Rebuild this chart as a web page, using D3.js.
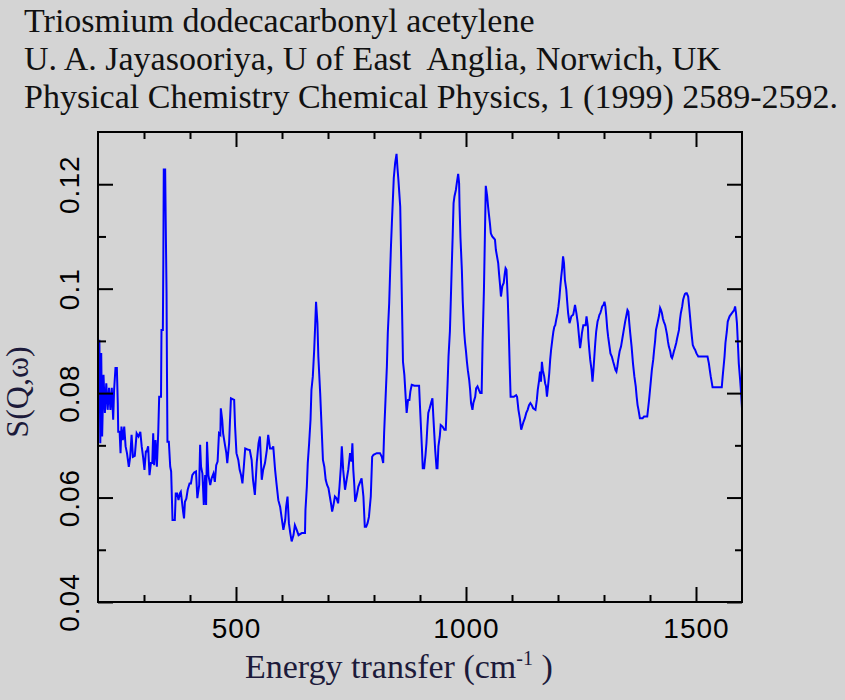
<!DOCTYPE html>
<html>
<head>
<meta charset="utf-8">
<script src="https://cdn.jsdelivr.net/npm/d3@7"></script>
<style>
  html, body { margin: 0; padding: 0; background: #d4d4d4; }
  svg { display: block; }
  text { white-space: pre; }
</style>
</head>
<body>
<svg id="chart" width="845" height="700"></svg>
<script>
// ---------- data ----------
const titleLines = [
  "Triosmium dodecacarbonyl acetylene",
  "U. A. Jayasooriya, U of East  Anglia, Norwich, UK",
  "Physical Chemistry Chemical Physics, 1 (1999) 2589-2592."
];
const xLabel = "Energy transfer (cm";
const xLabelSup = "-1";
const xLabelEnd = " )";
const yLabel = "S(Q,\u03c9)";

const xDomain = [200, 1600];
const yDomain = [0.04, 0.13];
const xMajorTicks = [500, 1000, 1500];
const xMinorTicks = [300, 400, 600, 700, 800, 900, 1100, 1200, 1300, 1400];
const yMajorTicks = [0.04, 0.06, 0.08, 0.1, 0.12];
const yMinorTicks = [0.05, 0.07, 0.09, 0.11];

const energy = [
200,203,205,207,209,212,215,218,221,224,227,230,233,235,238,241,243,244,247,249,
251,254,257,260,263,267,270,273,276,280,284,288,292,295,298,301,304,306,309,312,
315,318,320,322,325,328,331,333,337,338,341,342,343,346,347,349,350,351,354,357,
359,362,367,369,372,375,378,380,383,385,387,389,392,395,399,402,405,409,413,416,
420,422,424,427,430,433,435,437,440,444,447,451,454,457,460,463,466,467,470,472,
476,479,481,485,487,489,496,498,501,505,508,511,514,517,520,525,530,534,537,541,
545,549,552,556,559,563,567,570,574,579,581,585,588,592,596,599,603,607,609,612,
615,618,621,625,628,632,636,643,650,651,654,656,659,662,664,667,670,672,674,677,
679,683,686,689,692,695,698,701,704,707,709,712,715,719,722,725,728,730,733,737,
741,744,748,751,753,755,757,759,762,766,770,773,777,780,783,786,789,793,796,799,
806,813,817,820,822,825,828,830,833,835,837,839,841,843,846,849,851,853,855,857,
859,861,863,866,869,871,874,877,879,882,888,
898,900,902,904,906,909,912,914,916,918,921,924,927,929,931,933,936,938,940,943,
945,949,953,956,958,960,962,965,967,969,971,973,975,978,980,983,985,986,988,991,
993,996,998,1000,1002,1004,1007,1009,1011,1014,1016,1018,1020,1022,1025,1028,1031,1034,1036,1039,
1041,1043,1046,1048,1050,1052,1054,1057,1060,1063,1065,1070,1072,1074,1076,1079,1082,1084,1086,1088,
1091,1093,1095,1097,1104,1109,1111,1114,1117,1120,1122,1125,1128,1131,1134,1137,1140,1143,1146,1151,
1154,1156,1159,1161,1163,1165,1167,1170,1172,1174,1176,1179,1181,1183,1185,1188,1190,1192,1194,1196,
1199,1201,1203,1205,1207,1209,1211,1213,1215,1218,1220,1222,1225,1227,1229,1233,1235,
1237,1240,1243,1246,1248,1250,1252,1255,1258,1260,1262,1265,1266,1268,1270,1273,1275,1277,1279,1281,
1283,1286,1288,1290,1292,1294,1296,1299,1301,1303,1305,1307,1309,1312,1314,1317,1320,1322,1325,1327,
1329,1331,1334,1337,1340,1343,1346,1349,1351,1353,1355,1357,1360,1363,1366,1369,1371,1373,1375,1378,
1384,1387,1394,1396,1398,1400,1402,1404,1407,1409,1411,1413,1417,1420,1422,1424,1426,1428,1430,1433,
1435,1437,1439,1441,1444,1446,1448,1450,1452,1454,1457,1459,1463,1465,1467,1470,1472,1474,1476,1478,
1480,1483,1485,1487,1489,1491,1493,1496,1498,1501,1505,1525,1528,1530,1532,1534,1536,1556,1558,1560,
1562,1564,1567,1569,1573,1578,1583,1585,1587,1589,1591,1593,1596,1598,1600
];

const sqw = [
.0870,.0902,.0704,.0877,.0717,.0835,.0762,.0819,.0768,.0810,.0768,.0810,.0749,.0806,.0848,.0848,.0781,.0726,.0726,.0685,
.0736,.0710,.0736,.0698,.0685,.0659,.0678,.0720,.0678,.0680,.0723,.0717,.0726,.0698,.0678,.0653,.0688,.0688,.0698,.0643,
.0666,.0666,.0723,.0662,.0710,.0659,.0726,.0793,.0793,.0921,.0921,.1049,.1228,.1228,.1145,.0991,.0832,.0707,.0707,.0659,
.0650,.0557,.0557,.0608,.0608,.0595,.0608,.0611,.0589,.0573,.0560,.0592,.0598,.0615,.0627,.0627,.0643,.0648,.0650,.0599,
.0624,.0701,.0659,.0646,.0586,.0643,.0586,.0707,.0643,.0624,.0637,.0646,.0630,.0662,.0669,.0723,.0720,.0771,.0749,.0723,
.0701,.0685,.0666,.0704,.0749,.0790,.0787,.0736,.0685,.0672,.0653,.0643,.0627,.0659,.0694,.0692,.0691,.0672,.0634,.0605,
.0666,.0704,.0717,.0634,.0653,.0666,.0691,.0720,.0694,.0694,.0698,.0653,.0627,.0595,.0582,.0563,.0538,.0557,.0582,.0602,
.0551,.0532,.0516,.0528,.0547,.0538,.0528,.0532,.0532,.0576,.0621,.0666,.0704,.0749,.0806,.0832,.0883,.0927,.0975,.0934,
.0870,.0800,.0736,.0672,.0659,.0634,.0624,.0618,.0602,.0586,.0573,.0586,.0602,.0598,.0589,.0621,.0659,.0698,.0653,.0615,
.0637,.0653,.0685,.0669,.0704,.0653,.0627,.0592,.0602,.0621,.0630,.0637,.0602,.0544,.0544,.0551,.0563,.0602,.0678,.0682,
.0685,.0685,.0678,.0666,.0723,.0787,.0851,.0915,.0972,.1030,.1084,.1129,.1170,.1212,.1241,.1258,.1231,.1209,.1183,.1157,
.1062,.0959,.0860,.0835,.0790,.0762,.0787,.0787,.0803,.0816,.0814,
.0814,.0774,.0736,.0698,.0656,.0656,.0682,.0704,.0736,.0762,.0771,.0781,.0790,.0755,.0723,.0691,.0656,.0656,.0698,.0717,
.0739,.0736,.0730,.0730,.0774,.0819,.0870,.0918,.0979,.1042,.1100,.1164,.1177,.1189,.1202,.1220,.1202,.1157,.1097,.1036,
.0975,.0918,.0896,.0880,.0860,.0844,.0825,.0806,.0781,.0768,.0781,.0787,.0793,.0809,.0813,.0806,.0800,.0800,.0896,.0998,
.1097,.1197,.1177,.1157,.1141,.1125,.1106,.1100,.1097,.1094,.1074,.1049,.1027,.1007,.0985,.1005,.1011,.1027,.1039,.1036,
.0975,.0918,.0851,.0793,.0793,.0796,.0793,.0768,.0752,.0730,.0736,.0745,.0752,.0762,.0768,.0777,.0781,.0777,.0771,.0768,
.0787,.0806,.0825,.0841,.0822,.0860,.0844,.0832,.0819,.0813,.0793,.0819,.0838,.0864,.0883,.0905,.0918,.0927,.0930,.0940,
.0953,.0966,.0982,.1004,.1023,.1039,.1062,.1049,.1017,.0998,.0975,.0953,.0934,.0940,.0947,.0950,.0959,
.0969,.0953,.0934,.0905,.0886,.0899,.0915,.0930,.0930,.0930,.0947,.0927,.0905,.0883,.0864,.0844,.0822,.0844,.0870,.0896,
.0918,.0937,.0943,.0950,.0953,.0959,.0966,.0969,.0975,.0966,.0947,.0924,.0908,.0889,.0876,.0870,.0860,.0854,.0844,.0841,
.0851,.0864,.0880,.0889,.0905,.0921,.0937,.0950,.0959,.0956,.0934,.0915,.0889,.0857,.0832,.0813,.0793,.0777,.0768,.0752,
.0752,.0755,.0755,.0771,.0787,.0806,.0825,.0844,.0864,.0883,.0899,.0921,.0937,.0950,.0963,.0959,.0953,.0943,.0937,.0930,
.0921,.0912,.0899,.0889,.0880,.0870,.0867,.0873,.0880,.0886,.0896,.0905,.0921,.0940,.0953,.0966,.0979,.0985,.0990,.0991,
.0991,.0985,.0966,.0947,.0927,.0908,.0892,.0886,.0883,.0876,.0870,.0870,.0857,.0844,.0832,.0822,.0811,.0811,.0832,.0851,
.0870,.0896,.0918,.0937,.0947,.0953,.0959,.0966,.0953,.0934,.0896,.0857,.0825,.0800,.0771
];

// ---------- drawing ----------
const W = 845, H = 700;
const plot = { left: 98, right: 742, top: 132, bottom: 602 };

const svg = d3.select("#chart");
svg.append("rect").attr("width", W).attr("height", H).attr("fill", "#d4d4d4");

const x = d3.scaleLinear().domain(xDomain).range([plot.left, plot.right]);
const y = d3.scaleLinear().domain(yDomain).range([plot.bottom, plot.top]);

// title
const serif = "'Liberation Serif', 'Times New Roman', serif";
const sans = "'Liberation Sans', Arial, Helvetica, sans-serif";
svg.append("g").selectAll("text").data(titleLines).join("text")
  .attr("x", 24)
  .attr("y", (d, i) => 32 + i * 38)
  .attr("font-family", serif)
  .attr("font-size", 34)
  .attr("fill", "#111")
  .text(d => d);

// data line
svg.append("clipPath").attr("id", "clip")
  .append("rect").attr("x", plot.left).attr("y", plot.top)
  .attr("width", plot.right - plot.left).attr("height", plot.bottom - plot.top);

const points = energy.map((e, i) => [e, sqw[i]]);
svg.append("path")
  .datum(points)
  .attr("clip-path", "url(#clip)")
  .attr("fill", "none")
  .attr("stroke", "#0000ff")
  .attr("stroke-width", 2)
  .attr("stroke-linejoin", "miter")
  .attr("d", d3.line().x(d => x(d[0])).y(d => y(d[1])));

// axes (inward ticks)
function styleAxis(g) {
  g.select(".domain").remove();
  g.selectAll(".tick line").attr("stroke", "#000").attr("stroke-width", 2);
}
const fmtY = d => String(+d.toFixed(2));

// bottom
svg.append("g").attr("transform", `translate(0,${plot.bottom})`)
  .call(d3.axisBottom(x).tickValues(xMajorTicks).tickSize(-15).tickPadding(16).tickFormat(d3.format("d")))
  .call(styleAxis)
  .call(g => g.selectAll("text").attr("font-family", sans).attr("font-size", 28)
    .attr("letter-spacing", 1).attr("fill", "#000"));
svg.append("g").attr("transform", `translate(0,${plot.bottom})`)
  .call(d3.axisBottom(x).tickValues(xMinorTicks).tickSize(-7).tickFormat(""))
  .call(styleAxis);
// top
svg.append("g").attr("transform", `translate(0,${plot.top})`)
  .call(d3.axisTop(x).tickValues(xMajorTicks).tickSize(-15).tickFormat(""))
  .call(styleAxis);
svg.append("g").attr("transform", `translate(0,${plot.top})`)
  .call(d3.axisTop(x).tickValues(xMinorTicks).tickSize(-7).tickFormat(""))
  .call(styleAxis);
// left
svg.append("g").attr("transform", `translate(${plot.left},0)`)
  .call(d3.axisLeft(y).tickValues(yMajorTicks).tickSize(-15).tickFormat(fmtY))
  .call(styleAxis)
  .call(g => g.selectAll("text")
    .attr("x", null).attr("dy", null).attr("y", null)
    .attr("transform", "translate(-19,0) rotate(-90)")
    .attr("text-anchor", "middle")
    .attr("font-family", sans).attr("font-size", 28)
    .attr("letter-spacing", 1).attr("fill", "#000"));
svg.append("g").attr("transform", `translate(${plot.left},0)`)
  .call(d3.axisLeft(y).tickValues(yMinorTicks).tickSize(-8).tickFormat(""))
  .call(styleAxis);
// right
svg.append("g").attr("transform", `translate(${plot.right},0)`)
  .call(d3.axisRight(y).tickValues(yMajorTicks).tickSize(-15).tickFormat(""))
  .call(styleAxis);
svg.append("g").attr("transform", `translate(${plot.right},0)`)
  .call(d3.axisRight(y).tickValues(yMinorTicks).tickSize(-7).tickFormat(""))
  .call(styleAxis);

// frame
svg.append("rect")
  .attr("x", plot.left).attr("y", plot.top)
  .attr("width", plot.right - plot.left).attr("height", plot.bottom - plot.top)
  .attr("fill", "none").attr("stroke", "#000").attr("stroke-width", 2);

// axis titles
const xt = svg.append("text")
  .attr("x", 245).attr("y", 678)
  .attr("font-family", serif).attr("font-size", 34).attr("fill", "#1c1a3a");
xt.append("tspan").text(xLabel);
xt.append("tspan").attr("font-size", 20).attr("dy", -13).text(xLabelSup);
xt.append("tspan").attr("dy", 13).text(xLabelEnd);

svg.append("text")
  .attr("transform", "translate(28,392) rotate(-90)")
  .attr("text-anchor", "middle")
  .attr("font-family", serif).attr("font-size", 32).attr("fill", "#1c1a3a")
  .text(yLabel);
</script>
</body>
</html>
